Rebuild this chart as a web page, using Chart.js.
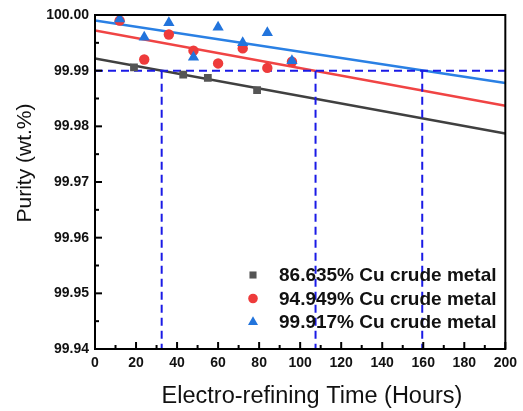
<!DOCTYPE html>
<html>
<head>
<meta charset="utf-8">
<script src="https://cdn.jsdelivr.net/npm/chart.js@4.4.0/dist/chart.umd.min.js"></script>
<style>
  html, body { margin: 0; padding: 0; background: #fff; }
  #wrap { width: 523px; height: 411px; }
</style>
</head>
<body>
<div id="wrap"><canvas id="purity-chart" width="523" height="411"></canvas></div>
<script>
// measured points (hours, wt.%)
const labels = ['86.635% Cu crude metal', '94.949% Cu crude metal', '99.917% Cu crude metal'];

const timeA = [19, 43, 55, 79];
const purityA = [99.9906, 99.9893, 99.9887, 99.9865];

const timeB = [12, 24, 36, 48, 60, 72, 84, 96];
const purityB = [99.9990, 99.9920, 99.9965, 99.9936, 99.9913, 99.9940, 99.9905, 99.9916];

const timeC = [12, 24, 36, 48, 60, 72, 84, 96];
const purityC = [99.9993, 99.9960, 99.9986, 99.9924, 99.9978, 99.9950, 99.9968, 99.9918];

// fitted lines, value at 0 h and at 200 h
const fitX = [0, 200];
const fitA = [99.9922, 99.9787];
const fitB = [99.9972, 99.9837];
const fitC = [99.9990, 99.9878];

// 99.99 target and the time each line reaches it
const target = 99.99;
const crossTimes = [32.5, 107.5, 159.5];

const xTicks = [0, 20, 40, 60, 80, 100, 120, 140, 160, 180, 200];
const yTicks = [99.94, 99.95, 99.96, 99.97, 99.98, 99.99, 100.00];

const xTitle = 'Electro-refining Time (Hours)';
const yTitle = 'Purity (wt.%)';

const colA = '#555555', colB = '#ee3b3b', colC = '#2274dc';
const lineA = '#404040', lineB = '#f04444', lineC = '#2a80e4';
const dashCol = '#1a1ae6';
const fontFam = '"Liberation Sans", Arial, sans-serif';

function pts(xs, ys) {
    return xs.map((x, i) => ({ x: x, y: ys[i] }));
}

const datasets = [
    { label: 'fitA', data: pts(fitX, fitA), type: 'line', borderColor: lineA, borderWidth: 2.5, pointRadius: 0, order: 5 },
    { label: 'fitB', data: pts(fitX, fitB), type: 'line', borderColor: lineB, borderWidth: 2.5, pointRadius: 0, order: 5 },
    { label: 'fitC', data: pts(fitX, fitC), type: 'line', borderColor: lineC, borderWidth: 2.5, pointRadius: 0, order: 5 },
    { label: 'target', data: pts(fitX, [target, target]), type: 'line', borderColor: dashCol, borderWidth: 2, borderDash: [8, 5], pointRadius: 0, order: 4 }
];
crossTimes.forEach(t => {
    datasets.push({ label: 'cross', data: [{ x: t, y: target }, { x: t, y: 99.94 }], type: 'line', borderColor: dashCol, borderWidth: 2, borderDash: [8, 5], pointRadius: 0, order: 4 });
});
datasets.push(
    { label: labels[0], data: pts(timeA, purityA), pointStyle: 'rect', pointRadius: 5.5, backgroundColor: colA, borderColor: colA, borderWidth: 0, order: 2 },
    { label: labels[1], data: pts(timeB, purityB), pointStyle: 'circle', pointRadius: 5.2, backgroundColor: colB, borderColor: colB, borderWidth: 0, order: 1 },
    { label: labels[2], data: pts(timeC, purityC), pointStyle: 'triangle', pointRadius: 6.5, backgroundColor: colC, borderColor: colC, borderWidth: 0, order: 0 }
);

// frame, inward ticks, axis titles and the legend
const framePlugin = {
    id: 'frame',
    afterDraw(chart) {
        const ctx = chart.ctx;
        const a = chart.chartArea;
        const xs = chart.scales.x, ys = chart.scales.y;
        ctx.save();
        ctx.strokeStyle = '#000';
        ctx.lineWidth = 2;
        for (let v = 0; v <= 200; v += 10) {
            const px = xs.getPixelForValue(v);
            const len = v % 20 === 0 ? 7 : 4;
            ctx.beginPath();
            ctx.moveTo(px, a.bottom);
            ctx.lineTo(px, a.bottom - len);
            ctx.stroke();
        }
        for (let i = 0; i <= 12; i++) {
            const py = ys.getPixelForValue(99.94 + i * 0.005);
            const len = i % 2 === 0 ? 7 : 4;
            ctx.beginPath();
            ctx.moveTo(a.left, py);
            ctx.lineTo(a.left + len, py);
            ctx.stroke();
        }
        ctx.strokeRect(a.left, a.top, a.right - a.left, a.bottom - a.top);

        // axis titles
        ctx.fillStyle = '#111';
        ctx.textAlign = 'center';
        ctx.textBaseline = 'middle';
        ctx.font = '23.5px ' + fontFam;
        ctx.fillText(xTitle, 312, 397);
        ctx.save();
        ctx.translate(25, 163);
        ctx.rotate(-Math.PI / 2);
        ctx.font = '21px ' + fontFam;
        ctx.fillText(yTitle, 0, 0);
        ctx.restore();

        // legend
        const items = chart.data.datasets.filter(d => labels.includes(d.label));
        ctx.textAlign = 'left';
        ctx.font = 'bold 19px ' + fontFam;
        items.forEach((d, i) => {
            const y = 275 + i * 23.5;
            ctx.fillStyle = d.backgroundColor;
            Chart.helpers.drawPoint(ctx, {
                pointStyle: d.pointStyle,
                radius: d.pointStyle === 'triangle' ? 5.8 : (d.pointStyle === 'rect' ? 5 : 4.8),
                borderWidth: 0
            }, 253, y);
            ctx.fillStyle = '#111';
            ctx.fillText(d.label, 279, y + 1);
        });
        ctx.restore();
    }
};

const ctx = document.getElementById('purity-chart').getContext('2d');
const purityChart = new Chart(ctx, {
    type: 'scatter',
    data: { datasets: datasets },
    options: {
        responsive: false,
        animation: false,
        layout: { padding: { top: 15, right: 11, left: 0, bottom: 0 } },
        plugins: {
            legend: { display: false },
            tooltip: { enabled: false }
        },
        scales: {
            x: {
                type: 'linear',
                min: 0, max: 200,
                afterBuildTicks: s => { s.ticks = xTicks.map(v => ({ value: v })); },
                afterFit: s => { s.height = 62; },
                grid: { display: false, drawTicks: false },
                border: { display: false },
                ticks: {
                    padding: 6,
                    color: '#111',
                    maxRotation: 0,
                    font: { family: fontFam, size: 14, weight: 'bold' }
                }
            },
            y: {
                type: 'linear',
                min: 99.94, max: 100.00,
                afterBuildTicks: s => { s.ticks = yTicks.map(v => ({ value: v })); },
                afterFit: s => { s.width = 95; },
                grid: { display: false, drawTicks: false },
                border: { display: false },
                ticks: {
                    padding: 6,
                    color: '#111',
                    callback: v => Number(v).toFixed(2),
                    font: { family: fontFam, size: 14, weight: 'bold' }
                }
            }
        }
    },
    plugins: [framePlugin]
});
</script>
</body>
</html>
